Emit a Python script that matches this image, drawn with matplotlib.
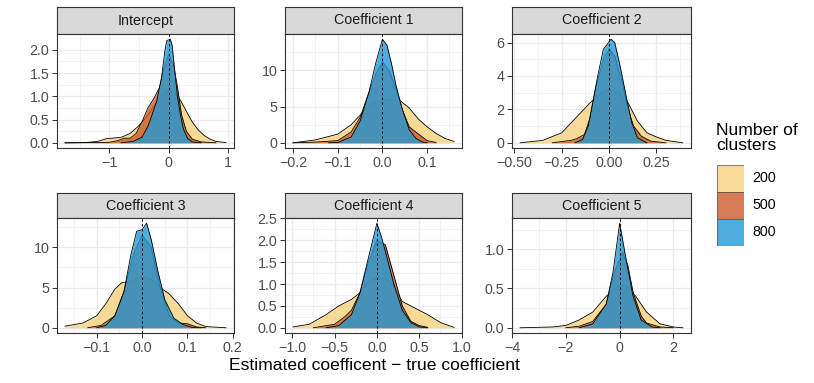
import matplotlib
matplotlib.use("Agg")
import matplotlib.pyplot as plt
from matplotlib.patches import Rectangle

plt.rcParams['font.family'] = ['Liberation Sans', 'DejaVu Sans']

# ---- data ----
panel_titles = ["Intercept", "Coefficient 1", "Coefficient 2",
                "Coefficient 3", "Coefficient 4", "Coefficient 5"]
cluster_labels = ["200", "500", "800"]
fill_colors = ["#F5D17C", "#CC5C2A", "#2299D6"]

# Intercept
icpt_200_x = [-1.75, -1.4, -1.2, -1.05, -0.95, -0.8, -0.65, -0.5, -0.35, -0.2, -0.1, 0.0,
              0.1, 0.2, 0.3, 0.4, 0.5, 0.6, 0.7, 0.8, 0.97]
icpt_200_y = [0.0, 0.005, 0.03, 0.09, 0.1, 0.12, 0.2, 0.37, 0.6, 0.88, 1.05, 1.12,
              1.08, 0.92, 0.68, 0.45, 0.28, 0.16, 0.08, 0.03, 0.005]
icpt_500_x = [-1.75, -1.0, -0.85, -0.75, -0.65, -0.55, -0.45, -0.35, -0.25, -0.15, -0.08, 0.0,
              0.08, 0.15, 0.22, 0.3, 0.4, 0.55, 0.8]
icpt_500_y = [0.0, 0.01, 0.05, 0.1, 0.1, 0.2, 0.45, 0.75, 0.95, 1.2, 1.6, 1.9,
              1.7, 1.2, 0.6, 0.25, 0.08, 0.02, 0.0]
icpt_800_x = [-0.8, -0.6, -0.45, -0.35, -0.28, -0.2, -0.12, -0.06, -0.03, 0.03, 0.06, 0.1,
              0.15, 0.2, 0.25, 0.32, 0.4, 0.55]
icpt_800_y = [0.0, 0.03, 0.12, 0.35, 0.6, 0.9, 1.4, 2.0, 2.2, 2.23, 2.1, 1.6,
              1.0, 0.6, 0.3, 0.1, 0.02, 0.0]

# Coefficient 1
c1_200_x = [-0.2, -0.15, -0.1, -0.07, -0.05, -0.03, 0.0, 0.03, 0.04, 0.06, 0.08, 0.1, 0.12, 0.14, 0.16]
c1_200_y = [0.0, 0.4, 1.2, 2.5, 3.8, 5.2, 6.0, 5.9, 5.8, 4.8, 3.3, 2.2, 1.3, 0.6, 0.2]
c1_500_x = [-0.2, -0.15, -0.1, -0.07, -0.05, -0.03, -0.015, 0.0, 0.015, 0.03, 0.045, 0.06,
            0.07, 0.085, 0.1, 0.12]
c1_500_y = [0.0, 0.1, 0.3, 1.5, 3.5, 7.0, 9.5, 11.2, 10.0, 7.5, 4.5, 2.2,
            1.7, 1.0, 0.3, 0.05]
c1_800_x = [-0.12, -0.1, -0.07, -0.05, -0.03, -0.015, 0.0, 0.01, 0.02, 0.03, 0.045, 0.06, 0.075, 0.09, 0.1]
c1_800_y = [0.0, 0.05, 0.8, 3.0, 7.0, 11.0, 14.3, 13.5, 11.0, 8.0, 4.5, 1.8, 0.6, 0.1, 0.0]

# Coefficient 2
c2_200_x = [-0.47, -0.35, -0.25, -0.15, -0.1, -0.05, 0.0, 0.05, 0.1, 0.15, 0.2, 0.25, 0.3, 0.39]
c2_200_y = [0.0, 0.15, 0.6, 1.8, 2.4, 2.9, 3.2, 3.0, 2.4, 1.3, 0.6, 0.35, 0.15, 0.0]
c2_500_x = [-0.3, -0.2, -0.17, -0.13, -0.1, -0.07, -0.03, 0.0, 0.03, 0.07, 0.1, 0.13, 0.17, 0.22, 0.3]
c2_500_y = [0.0, 0.15, 0.25, 0.5, 1.5, 3.3, 5.0, 5.6, 5.2, 3.6, 2.0, 1.0, 0.4, 0.1, 0.0]
c2_800_x = [-0.18, -0.14, -0.11, -0.09, -0.06, -0.03, 0.01, 0.03, 0.06, 0.09, 0.12, 0.15, 0.2]
c2_800_y = [0.0, 0.2, 1.0, 2.2, 4.0, 5.6, 6.2, 6.0, 4.5, 2.8, 1.2, 0.3, 0.0]

# Coefficient 3
c3_200_x = [-0.17, -0.13, -0.1, -0.08, -0.06, -0.045, -0.02, 0.0, 0.02, 0.04, 0.06, 0.08,
            0.1, 0.12, 0.14, 0.185]
c3_200_y = [0.2, 0.6, 1.5, 3.0, 4.8, 5.6, 5.8, 6.4, 6.0, 5.0, 4.2, 3.0,
            1.5, 0.6, 0.15, 0.0]
c3_500_x = [-0.12, -0.09, -0.06, -0.04, -0.02, 0.0, 0.02, 0.04, 0.06, 0.08, 0.1, 0.12, 0.14]
c3_500_y = [0.0, 0.3, 1.5, 4.5, 9.0, 11.5, 10.0, 5.0, 1.5, 0.6, 0.5, 0.1, 0.0]
c3_800_x = [-0.1, -0.08, -0.06, -0.04, -0.025, -0.012, 0.0, 0.01, 0.02, 0.035, 0.05, 0.07,
            0.09, 0.11, 0.13]
c3_800_y = [0.0, 0.3, 1.5, 4.5, 9.0, 12.0, 12.2, 13.0, 11.0, 7.0, 3.5, 1.2,
            0.4, 0.05, 0.0]

# Coefficient 4
c4_200_x = [-0.99, -0.8, -0.6, -0.45, -0.3, -0.2, -0.1, 0.0, 0.1, 0.2, 0.3, 0.4,
            0.5, 0.6, 0.75, 0.91]
c4_200_y = [0.02, 0.08, 0.3, 0.5, 0.65, 0.8, 1.05, 1.13, 1.13, 0.95, 0.6, 0.5,
            0.4, 0.3, 0.12, 0.01]
c4_500_x = [-0.75, -0.5, -0.38, -0.3, -0.2, -0.1, 0.0, 0.1, 0.2, 0.3, 0.4, 0.5, 0.6]
c4_500_y = [0.0, 0.08, 0.25, 0.4, 0.8, 1.5, 2.0, 1.9, 1.2, 0.5, 0.15, 0.05, 0.01]
c4_800_x = [-0.6, -0.45, -0.3, -0.2, -0.1, 0.0, 0.05, 0.1, 0.2, 0.3, 0.4, 0.5, 0.6]
c4_800_y = [0.0, 0.05, 0.3, 0.8, 1.6, 2.39, 2.1, 1.75, 1.0, 0.4, 0.12, 0.02, 0.0]

# Coefficient 5
c5_200_x = [-3.7, -2.5, -2.0, -1.5, -1.0, -0.5, 0.0, 0.3, 0.6, 1.0, 1.5, 2.0, 2.35]
c5_200_y = [0.0, 0.01, 0.03, 0.1, 0.2, 0.4, 0.55, 0.52, 0.4, 0.2, 0.05, 0.01, 0.0]
c5_500_x = [-2.0, -1.5, -1.0, -0.5, -0.2, 0.1, 0.3, 0.5, 0.8, 1.0, 1.5, 2.0]
c5_500_y = [0.0, 0.02, 0.08, 0.3, 0.7, 0.96, 0.8, 0.45, 0.15, 0.06, 0.01, 0.0]
c5_800_x = [-1.5, -1.0, -0.5, -0.25, 0.0, 0.25, 0.5, 0.8, 1.2, 1.5]
c5_800_y = [0.0, 0.05, 0.3, 0.7, 1.33, 0.85, 0.4, 0.1, 0.01, 0.0]

# ticks
icpt_xticks, icpt_xlabels = [-1, 0, 1], ["\u22121", "0", "1"]
icpt_yticks, icpt_ylabels = [0, 0.5, 1, 1.5, 2], ["0.0", "0.5", "1.0", "1.5", "2.0"]
c1_xticks, c1_xlabels = [-0.2, -0.1, 0, 0.1], ["\u22120.2", "\u22120.1", "0.0", "0.1"]
c1_yticks, c1_ylabels = [0, 5, 10], ["0", "5", "10"]
c2_xticks, c2_xlabels = [-0.5, -0.25, 0, 0.25], ["\u22120.50", "\u22120.25", "0.00", "0.25"]
c2_yticks, c2_ylabels = [0, 2, 4, 6], ["0", "2", "4", "6"]
c3_xticks, c3_xlabels = [-0.1, 0, 0.1, 0.2], ["\u22120.1", "0.0", "0.1", "0.2"]
c3_yticks, c3_ylabels = [0, 5, 10], ["0", "5", "10"]
c4_xticks, c4_xlabels = [-1, -0.5, 0, 0.5, 1], ["\u22121.0", "\u22120.5", "0.0", "0.5", "1.0"]
c4_yticks, c4_ylabels = [0, 0.5, 1, 1.5, 2, 2.5], ["0.0", "0.5", "1.0", "1.5", "2.0", "2.5"]
c5_xticks, c5_xlabels = [-4, -2, 0, 2], ["\u22124", "\u22122", "0", "2"]
c5_yticks, c5_ylabels = [0, 0.5, 1], ["0.0", "0.5", "1.0"]

panels = [
    ([(icpt_200_x, icpt_200_y), (icpt_500_x, icpt_500_y), (icpt_800_x, icpt_800_y)],
     icpt_xticks, icpt_xlabels, icpt_yticks, icpt_ylabels),
    ([(c1_200_x, c1_200_y), (c1_500_x, c1_500_y), (c1_800_x, c1_800_y)],
     c1_xticks, c1_xlabels, c1_yticks, c1_ylabels),
    ([(c2_200_x, c2_200_y), (c2_500_x, c2_500_y), (c2_800_x, c2_800_y)],
     c2_xticks, c2_xlabels, c2_yticks, c2_ylabels),
    ([(c3_200_x, c3_200_y), (c3_500_x, c3_500_y), (c3_800_x, c3_800_y)],
     c3_xticks, c3_xlabels, c3_yticks, c3_ylabels),
    ([(c4_200_x, c4_200_y), (c4_500_x, c4_500_y), (c4_800_x, c4_800_y)],
     c4_xticks, c4_xlabels, c4_yticks, c4_ylabels),
    ([(c5_200_x, c5_200_y), (c5_500_x, c5_500_y), (c5_800_x, c5_800_y)],
     c5_xticks, c5_xlabels, c5_yticks, c5_ylabels),
]

# ---- layout (pixels) ----
W, H = 814, 383
ALPHA = 0.8
SMALL = 10.3
BIG = 12.6
fig = plt.figure(figsize=(W / 100, H / 100), dpi=100)


def px_axes(left, top, right, bottom):
    return fig.add_axes([left / W, 1 - bottom / H, (right - left) / W, (bottom - top) / H])


def minor_between(ticks, lo, hi):
    step = ticks[1] - ticks[0]
    ext = [ticks[0] - step] + list(ticks) + [ticks[-1] + step]
    mids = [(a + b) / 2 for a, b in zip(ext[:-1], ext[1:])]
    return [m for m in mids if lo <= m <= hi]


cols = [(57, 234), (285, 462), (512, 691)]
rows = [(7, 34, 148), (193, 218, 333)]

for i, (series, xt, xl, yt, yl) in enumerate(panels):
    s_top, p_top, p_bot = rows[i // 3]
    left, right = cols[i % 3]

    strip = px_axes(left, s_top, right, p_top)
    strip.set_facecolor("#D9D9D9")
    strip.set_xticks([])
    strip.set_yticks([])
    for sp in strip.spines.values():
        sp.set_color("#333333")
        sp.set_linewidth(0.8)
    strip.text(0.5, 0.5, panel_titles[i], ha="center", va="center",
               fontsize=SMALL, color="#1A1A1A", transform=strip.transAxes)

    ax = px_axes(left, p_top, right, p_bot)
    for k, (x, y) in enumerate(series):
        ax.fill_between(x, y, 0, color=fill_colors[k], alpha=ALPHA, lw=0, zorder=2 + k)
        ax.plot(x, y, color="black", lw=0.6, zorder=2 + k)
    ax.axvline(0, color="black", lw=0.7, ls=(0, (2.5, 2.5)), zorder=10)

    xmin = min(min(x) for x, _ in series)
    xmax = max(max(x) for x, _ in series)
    ymax = max(max(y) for _, y in series)
    xr = xmax - xmin
    xlo, xhi = xmin - 0.05 * xr, xmax + 0.05 * xr
    ylo, yhi = -0.05 * ymax, 1.05 * ymax

    xt_in = [(t, s) for t, s in zip(xt, xl) if xlo <= t <= xhi]
    yt_in = [(t, s) for t, s in zip(yt, yl) if ylo <= t <= yhi]
    ax.set_xticks([t for t, _ in xt_in], [s for _, s in xt_in])
    ax.set_yticks([t for t, _ in yt_in], [s for _, s in yt_in])
    ax.set_xticks(minor_between(xt, xlo, xhi), minor=True)
    ax.set_yticks(minor_between(yt, ylo, yhi), minor=True)
    ax.set_xlim(xlo, xhi)
    ax.set_ylim(ylo, yhi)

    ax.grid(which="major", color="#EBEBEB", lw=0.9, zorder=0)
    ax.grid(which="minor", color="#EBEBEB", lw=0.45, zorder=0)
    ax.set_axisbelow(True)
    ax.tick_params(which="major", length=3.5, width=0.7, color="#333333",
                   labelsize=SMALL, labelcolor="#4D4D4D", pad=2)
    ax.tick_params(which="minor", length=0)
    for sp in ax.spines.values():
        sp.set_color("#333333")
        sp.set_linewidth(0.8)

# axis title
fig.text(374 / W, 1 - 366 / H, "Estimated coefficent \u2212 true coefficient",
         ha="center", va="center", fontsize=BIG, color="black")

# legend
fig.text(716 / W, 1 - 123 / H, "Number of\nclusters", ha="left", va="top",
         fontsize=BIG, color="black", linespacing=1.0)
leg = px_axes(717, 165, 744, 246)
leg.set_xlim(0, 1)
leg.set_ylim(0, 3)
leg.axis("off")
for k, lab in enumerate(cluster_labels):
    y0 = 2 - k
    leg.add_patch(Rectangle((0, y0), 1, 1, facecolor=fill_colors[k], alpha=ALPHA,
                            edgecolor="none"))
    leg.add_patch(Rectangle((0, y0), 1, 1, facecolor="none", edgecolor="#555555", lw=0.5))
    yc = 165 + (k + 0.5) * 27
    fig.text(752 / W, 1 - yc / H, lab, ha="left", va="center", fontsize=SMALL, color="black")

fig.savefig("out.png", dpi=100)
